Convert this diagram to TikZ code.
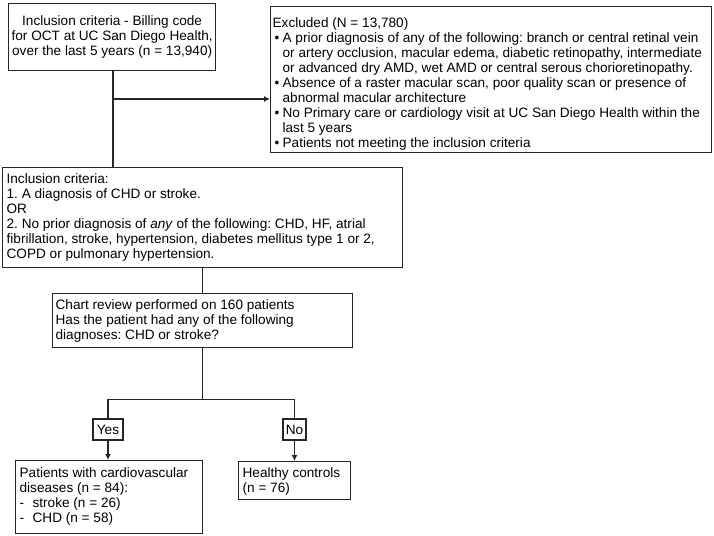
\documentclass[tikz,border=0pt]{standalone}
\usepackage{fontspec}
\setmainfont{Liberation Sans}
\usepackage{tikz}
\usetikzlibrary{shapes,arrows,arrows.meta,positioning}

\newcommand{\up}[1]{\rule{0pt}{#1pt}}
\newcommand{\dn}[1]{\rule[-#1pt]{0pt}{#1pt}}
\newcommand{\bul}{\makebox[11pt][l]{\hspace{3pt}\textbullet}}
\newcommand{\ind}{\hspace*{11pt}}
\newcommand{\dsh}{\makebox[13pt][l]{-}}

\begin{document}
\begin{tikzpicture}[x=1pt,y=-1pt,->,>={Latex[length=6pt,width=6pt]},line width=1.2pt,draw=black!85]
\tikzstyle{block} = [rectangle, draw=black!85, line width=1.3pt, anchor=north west, align=flush left, inner xsep=3pt, inner ysep=0pt, font=\fontsize{13.6}{15}\selectfont\frenchspacing]
\tikzstyle{choice} = [rectangle, draw=black!85, line width=1.3pt, minimum height=21pt, inner sep=1pt, font=\fontsize{13.6}{15}\selectfont]
\useasboundingbox (0,0) rectangle (714,535);

\node[block, align=flush center, inner xsep=0pt, text width=207pt] (BILLING) at (8,3)
  {\up{22}Inclusion criteria - Billing code\\ for OCT at UC San Diego Health,\\ over the last 5 years (n = 13,940)\dn{15}};
\node[block, inner xsep=1pt, text width=439pt] (EXCLUDED) at (270,6)
  {\up{21}\hspace*{1pt}Excluded (N = 13,780)\\
   \bul A prior diagnosis of any of the following: branch or central retinal vein\\
   \ind or artery occlusion, macular edema, diabetic retinopathy, intermediate\\
   \ind or advanced dry AMD, wet AMD or central serous chorioretinopathy.\\
   \bul Absence of a raster macular scan, poor quality scan or presence of\\
   \ind abnormal macular architecture\\
   \bul No Primary care or cardiology visit at UC San Diego Health within the\\
   \ind last 5 years\\
   \bul Patients not meeting the inclusion criteria\dn{5}};
\node[block, inner xsep=4pt, text width=392pt] (CRITERIA) at (2,167)
  {\up{16}Inclusion criteria:\\
   1. A diagnosis of CHD or stroke.\\
   OR\\
   2. No prior diagnosis of \emph{any} of the following: CHD, HF, atrial\\
   fibrillation, stroke, hypertension, diabetes mellitus type 1 or 2,\\
   COPD or pulmonary hypertension.\dn{9}};
\node[block, text width=294pt] (CHART) at (52,293)
  {\up{15.5}Chart review performed on 160 patients\\
   Has the patient had any of the following\\
   diagnoses: CHD or stroke?\dn{8.5}};
\node[choice, minimum width=30pt] (YES) at (108,429.5) {Yes};
\node[choice, minimum width=23pt] (NO) at (294.5,429.5) {No};
\node[block, inner xsep=4pt, text width=179pt] (CVD) at (15,460)
  {\up{17}Patients with cardiovascular\\
   diseases (n = 84):\\
   \dsh stroke (n = 26)\\
   \dsh CHD (n = 58)\dn{11}};
\node[block, inner xsep=4pt, text width=104pt] (HEALTHY) at (238,461)
  {\up{16}Healthy controls\\ (n = 76)\dn{7}};

\coordinate (SPLIT) at (113,99);
\draw[-] (BILLING.south -| SPLIT) -- (CRITERIA.north -| SPLIT);
\draw (SPLIT) -- (SPLIT -| EXCLUDED.west);
\draw[-] (CRITERIA.south -| CHART.north) -- (CHART.north);
\draw[-] (CHART.south) -- ++(0,51) -| (YES.north);
\draw[-] (CHART.south) -- ++(0,51) -| (NO.north);
\draw (YES.south) -- (YES.south |- CVD.north);
\draw (NO.south) -- (NO.south |- HEALTHY.north);

\end{tikzpicture}
\end{document}
